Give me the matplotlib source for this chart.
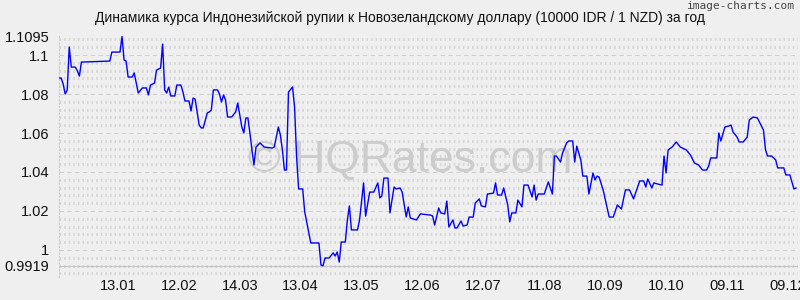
import matplotlib
matplotlib.use("Agg")
import matplotlib.pyplot as plt
import numpy as np
import pandas as pd

# IDR/NZD rate (10000 IDR per 1 NZD), one year
title = "Динамика курса Индонезийской рупии к Новозеландскому доллару (10000 IDR / 1 NZD) за год"
start = pd.Timestamp("2022-12-15")

days = [0, 1, 2, 3, 4, 5, 6, 8, 9, 10, 11, 12, 25, 26, 29, 30, 31, 32, 33, 34,
        36, 37, 39, 41, 43, 44, 45, 47, 48, 50, 51, 52, 53, 54, 55, 57, 58, 60, 61, 62,
        64, 65, 66, 67, 69, 70, 71, 73, 74, 75, 76, 78, 79, 80, 81, 82, 83, 85, 87, 88,
        89, 90, 91, 92, 93, 94, 95, 96, 97, 99, 101, 105, 106, 107, 108, 109, 110, 111, 112, 113,
        115, 116, 117, 118, 120, 121, 123, 124, 128, 129, 130, 131, 133, 135, 136, 137, 138, 139, 141, 142,
        143, 144, 147, 148, 150, 151, 153, 155, 157, 158, 159, 160, 162, 163, 165, 166, 168, 169, 171, 172,
        173, 176, 178, 183, 184, 185, 187, 188, 190, 191, 192, 194, 195, 196, 198, 199, 201, 202, 204, 205,
        207, 208, 210, 211, 214, 215, 216, 218, 219, 221, 222, 223, 225, 226, 228, 229, 231, 233, 234, 235,
        236, 239, 240, 241, 243, 244, 245, 247, 248, 250, 251, 253, 254, 255, 257, 258, 260, 261, 263, 264,
        265, 266, 268, 271, 273, 275, 277, 279, 281, 283, 286, 288, 289, 290, 292, 293, 295, 297, 298, 299,
        300, 302, 304, 306, 309, 311, 313, 315, 317, 319, 320, 321, 324, 325, 326, 328, 330, 331, 332, 334,
        335, 337, 339, 340, 342, 344, 345, 347, 348, 349, 351, 353, 354, 357, 358, 360, 362, 363]

rates = [1.0882, 1.0882, 1.0851, 1.0800, 1.0821, 1.1041, 1.0938, 1.0938, 1.0918, 1.0892,
         1.0964, 1.0964, 1.0969, 1.1015, 1.1015, 1.1015, 1.1095, 1.0974, 1.0969, 1.0887,
         1.0887, 1.0908, 1.0805, 1.0831, 1.0831, 1.0795, 1.0846, 1.0856, 1.0923, 1.0933,
         1.1056, 1.0821, 1.0805, 1.0836, 1.0790, 1.0790, 1.0846, 1.0846, 1.0810, 1.0764,
         1.0764, 1.0713, 1.0779, 1.0774, 1.0641, 1.0626, 1.0626, 1.0703, 1.0708, 1.0718,
         1.0821, 1.0821, 1.0800, 1.0759, 1.0795, 1.0769, 1.0682, 1.0682, 1.0708, 1.0754,
         1.0692, 1.0631, 1.0600, 1.0677, 1.0677, 1.0600, 1.0513, 1.0436, 1.0528, 1.0549,
         1.0528, 1.0523, 1.0528, 1.0579, 1.0631, 1.0590, 1.0513, 1.0410, 1.0410, 1.0810,
         1.0836, 1.0733, 1.0477, 1.0313, 1.0313, 1.0195, 1.0087, 1.0036, 1.0036, 0.9923,
         0.9919, 0.9959, 0.9959, 0.9985, 0.9969, 0.9990, 0.9938, 1.0041, 1.0041, 1.0154,
         1.0226, 1.0103, 1.0103, 1.0154, 1.0344, 1.0174, 1.0297, 1.0297, 1.0344, 1.0267,
         1.0277, 1.0369, 1.0369, 1.0190, 1.0323, 1.0313, 1.0318, 1.0297, 1.0169, 1.0221,
         1.0164, 1.0154, 1.0185, 1.0179, 1.0174, 1.0128, 1.0215, 1.0190, 1.0185, 1.0251,
         1.0118, 1.0154, 1.0113, 1.0113, 1.0149, 1.0123, 1.0128, 1.0169, 1.0169, 1.0241,
         1.0262, 1.0226, 1.0221, 1.0287, 1.0292, 1.0344, 1.0282, 1.0282, 1.0318, 1.0231,
         1.0144, 1.0190, 1.0190, 1.0256, 1.0221, 1.0333, 1.0333, 1.0272, 1.0333, 1.0256,
         1.0287, 1.0287, 1.0318, 1.0349, 1.0287, 1.0482, 1.0482, 1.0451, 1.0497, 1.0549,
         1.0559, 1.0559, 1.0451, 1.0533, 1.0462, 1.0379, 1.0379, 1.0287, 1.0395, 1.0359,
         1.0379, 1.0374, 1.0308, 1.0169, 1.0169, 1.0231, 1.0210, 1.0308, 1.0308, 1.0262,
         1.0354, 1.0354, 1.0323, 1.0364, 1.0318, 1.0344, 1.0338, 1.0333, 1.0482, 1.0395,
         1.0513, 1.0528, 1.0554, 1.0528, 1.0513, 1.0487, 1.0446, 1.0436, 1.0410, 1.0410,
         1.0431, 1.0472, 1.0472, 1.0600, 1.0559, 1.0631, 1.0636, 1.0641, 1.0605, 1.0579,
         1.0554, 1.0554, 1.0579, 1.0667, 1.0682, 1.0677, 1.0656, 1.0615, 1.0513, 1.0482,
         1.0482, 1.0462, 1.0421, 1.0421, 1.0385, 1.0385, 1.0313, 1.0318]

tick_dates = ["2023-01-13", "2023-02-12", "2023-03-14", "2023-04-13", "2023-05-13", "2023-06-12",
              "2023-07-12", "2023-08-11", "2023-09-10", "2023-10-10", "2023-11-09", "2023-12-09"]
tick_labels = ["13.01", "12.02", "14.03", "13.04", "13.05", "12.06",
               "12.07", "11.08", "10.09", "10.10", "09.11", "09.12"]
ytick_values = [0.9919, 1.0, 1.02, 1.04, 1.06, 1.08, 1.1, 1.1095]
ytick_labels = ["0.9919", "1", "1.02", "1.04", "1.06", "1.08", "1.1", "1.1095"]

plt.rcParams['font.family'] = ['Liberation Sans', 'DejaVu Sans']
bg = "#efefef"

dates = start + pd.to_timedelta(days, unit="D")

fig = plt.figure(figsize=(8, 3), dpi=100, facecolor=bg)
ax = fig.add_axes([59.1 / 800, 23 / 300, 738.9 / 800, 242 / 300], facecolor=bg)

# background bands of little vertical dashes
for v in np.arange(0.988, 1.112, 0.004):
    if abs(round(v / 0.02) * 0.02 - v) < 1e-6:
        ax.axhline(v, color="#cfcfcf", lw=0.8, ls=(0, (4, 3)), zorder=1)
    else:
        ax.axhline(v, color="#d6d6d6", lw=2.2, ls=(0, (0.5, 1.0)), zorder=1)
ax.axhline(0.9919, color="#c4c4c4", lw=0.8, zorder=1)

ax.text(0.475, 0.48, "© HQRates.com", transform=ax.transAxes, fontsize=32,
        color="#cccccc", ha="center", va="center", zorder=2)

ax.plot(dates, rates, color="#0000ff", lw=1.0, zorder=3)

ax.set_xlim(start, start + pd.Timedelta(days=364))
ax.set_ylim(0.98615, 1.11026)
ax.set_xticks(pd.to_datetime(tick_dates))
ax.set_xticklabels(tick_labels)
ax.set_yticks(ytick_values)
ax.set_yticklabels(ytick_labels)
ax.tick_params(length=0, labelsize=10.5, colors="#111111")
ax.tick_params(axis="x", pad=1.5)
ax.tick_params(axis="y", pad=7)

for s in ["top", "right", "bottom"]:
    ax.spines[s].set_visible(False)
ax.spines["left"].set_color("#cccccc")
ax.spines["left"].set_linestyle((0, (1, 2)))
ax.spines["left"].set_linewidth(0.8)

fig.text(0.5, 1 - 18 / 300, title, ha="center", va="center", fontsize=10, color="#111111")
fig.text(0.994, 1 - 6 / 300, "image-charts.com", ha="right", va="center",
         fontsize=8, color="#444444", family="DejaVu Sans Mono")

fig.savefig("out.png", dpi=100, facecolor=bg)
